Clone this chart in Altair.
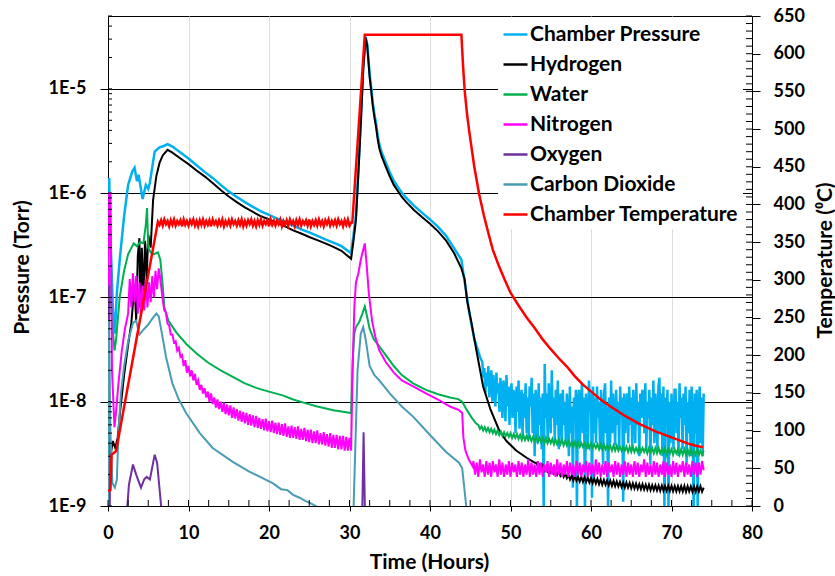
import altair as alt
import pandas as pd

# ---- series names and colours (legend order) ----
SERIES = ["Chamber Pressure", "Hydrogen", "Water", "Nitrogen", "Oxygen",
          "Carbon Dioxide", "Chamber Temperature"]
COLORS = ["#00B0F0", "#000000", "#00B050", "#FF00FF", "#7030A0", "#4A9BB4", "#FF0000"]

# ---- pressures in nTorr (converted to Torr below) ----
cp_t = [0, 0.15, 0.3, 0.6, 0.85, 1.1, 1.5, 2.0, 2.5, 3.0,
        3.3, 3.6, 3.8, 4.3, 4.7, 5.0, 5.2, 5.8, 6.4, 7.0,
        7.4, 8, 9, 10, 11, 12, 13, 14, 15, 16,
        17, 18, 19, 20, 21, 22, 23, 24, 25, 26,
        27, 28, 29, 30.2, 30.5, 30.8, 31.1, 31.4, 31.7, 32.0,
        32.2, 32.5, 32.7, 32.9, 33.1, 33.3, 33.5, 33.7, 34.0, 34.5,
        35.0, 35.5, 36.0, 36.5, 37.0, 38, 39, 40, 41, 42,
        43, 43.9, 44.2, 44.6, 44.9, 45.5, 46.2]
cp_v = [300, 1400, 400, 80, 45, 110, 250, 600, 1200, 1600,
        1750, 1300, 1500, 880, 1200, 1100, 1260, 2500, 2750, 2850,
        2950, 2800, 2450, 2150, 1850, 1600, 1400, 1200, 1040, 920,
        820, 740, 670, 620, 570, 530, 490, 450, 420, 390,
        360, 335, 310, 265, 400, 620, 1700, 5000, 16000, 31500,
        27000, 14000, 10200, 7300, 5700, 4650, 3600, 2950, 2450, 1970,
        1590, 1320, 1150, 1010, 910, 760, 650, 560, 475, 390,
        295, 230, 160, 100, 70, 40, 27]
# noisy gauge reading after cool-down, every 0.125 h from 46.5 h
cp_tail = [24, 17, 21, 12, 19, 14, 22, 11, 16, 20, 10, 18, 13, 9, 19, 12,
           15, 8, 17, 11, 7, 16, 13, 6.5, 18, 9, 14, 6, 12, 15, 7, 13,
           11, 5, 14, 8, 16, 5.5, 10, 13, 4.5, 12, 7, 15, 5, 11, 4.5, 14,
           9, 17, 5, 12, 3, 13, 8, 4, 15, 6, 11, 3.5, 12, 0.9, 23, 7,
           12, 4, 15, 9, 5, 20, 7, 11, 4.2, 13, 6, 16, 3.5, 10, 12, 4,
           13, 6, 10, 4, 12, 8, 3, 14, 5, 9, 1.5, 11, 7, 13, 0.9, 10,
           13, 4, 9, 15, 5, 11, 0.9, 12, 6, 3.5, 16, 8, 12, 1.2, 14, 5,
           11, 4, 14, 7, 10, 3.5, 13, 6, 2.5, 12, 15, 5, 9, 0.9, 11, 4,
           16, 5, 12, 8, 3.8, 13, 6, 10, 3.5, 14, 7, 11, 1.1, 12, 5, 9,
           12, 4, 14, 6, 11, 3.5, 13, 8, 4, 15, 6, 10, 3, 12, 7, 13,
           12, 5, 15, 3.5, 10, 7, 13, 2.5, 11, 6, 16, 4, 12, 8, 3.5, 14,
           17, 5, 12, 3, 14, 0.9, 11, 6, 13, 0.9, 10, 4, 12, 7, 3.5, 13,
           13, 5, 10, 3, 15, 7, 11, 3.5, 12, 6, 14, 2.5, 10, 5, 13, 3,
           14, 6, 0.9, 12, 5, 13, 0.9, 9, 14, 4, 11, 3, 12]

h_t = [0, 0.3, 0.6, 0.9, 1.2, 1.5, 2.0, 2.5, 2.9, 3.3,
       3.5, 3.7, 3.9, 4.0, 4.2, 4.4, 4.6, 4.8, 5.0, 5.3,
       5.6, 6.0, 6.4, 6.8, 7.4, 8, 9, 10, 11, 12,
       13, 14, 15, 16, 17, 18, 19, 20, 21, 22,
       23, 24, 25, 26, 27, 28, 29, 30.2, 30.5, 30.8,
       31.1, 31.4, 31.7, 32.0, 32.2, 32.5, 32.7, 32.9, 33.1, 33.3,
       33.5, 33.7, 34.0, 34.5, 35.0, 35.5, 36.0, 36.5, 37.0, 38,
       39, 40, 41, 42, 43, 43.9, 44.3, 44.6, 45.1, 45.8,
       46.6, 47.5, 48.6, 49.5, 50.7, 52.0, 53.0]
h_v = [0.5, 3, 4.2, 3.6, 4.5, 8, 18, 35, 57, 133,
       60, 250, 370, 80, 300, 100, 350, 150, 400, 300,
       860, 1450, 1950, 2300, 2600, 2450, 2150, 1900, 1650, 1450,
       1250, 1070, 930, 820, 730, 660, 600, 560, 520, 480,
       440, 410, 380, 355, 330, 305, 280, 235, 350, 550,
       1500, 4500, 15000, 31000, 26000, 13000, 9500, 6800, 5300, 4300,
       3300, 2700, 2250, 1800, 1450, 1200, 1050, 920, 830, 690,
       590, 510, 430, 350, 265, 190, 150, 94, 60, 30,
       14, 8.5, 5.3, 4.2, 3.4, 2.9, 2.6]
# every 0.2 h from 53.2 h
h_tail = [2.6, 2.4, 2.5, 2.3, 2.45, 2.2, 2.35, 2.15, 2.3, 2.1,
          2.25, 2.05, 2.2, 2.0, 2.15, 1.95, 2.1, 1.9, 2.05, 1.85,
          2.0, 1.8, 1.95, 1.75, 1.95, 1.75, 1.9, 1.72, 1.9, 1.7,
          1.88, 1.7, 1.86, 1.68, 1.85, 1.66, 1.84, 1.64, 1.82, 1.62,
          1.8, 1.6, 1.78, 1.6, 1.76, 1.58, 1.75, 1.56, 1.74, 1.55,
          1.72, 1.54, 1.7, 1.52, 1.68, 1.5, 1.68, 1.5, 1.66, 1.48,
          1.65, 1.47, 1.64, 1.46, 1.62, 1.45, 1.62, 1.44, 1.6, 1.43,
          1.6, 1.42, 1.58, 1.42, 1.58, 1.41, 1.57, 1.4, 1.57, 1.4,
          1.56, 1.4, 1.56, 1.39, 1.56, 1.39, 1.55, 1.38, 1.55, 1.38,
          1.55, 1.38, 1.56, 1.37, 1.55, 1.38, 1.54, 1.37, 1.55, 1.37,
          1.54, 1.38, 1.55, 1.37, 1.5]

w_t = [0.1, 0.5, 0.8, 1.0, 1.45, 2.0, 2.5, 3.2, 3.6, 4.0,
       4.4, 4.7, 4.85, 5.0, 5.3, 5.7, 6.2, 6.5, 6.8, 7.0,
       7.5, 8.5, 9.7, 11, 12.5, 14, 15.5, 17, 18.5, 20,
       21.7, 23, 24.5, 26, 28, 30.2, 30.4, 30.6, 30.8, 31.2,
       31.6, 31.9, 32.2, 32.5, 33, 33.7, 34.5, 35.5, 36.5, 37.9,
       39.5, 41, 42.5, 43.5, 44.0, 44.5, 45.2, 45.7]
w_v = [200, 60, 31, 39, 100, 180, 260, 330, 310, 340,
       330, 500, 720, 300, 270, 260, 270, 230, 130, 80,
       60, 46, 36, 29, 23.5, 20, 17.3, 15, 13.5, 12.5,
       11.5, 10.5, 9.7, 9.0, 8.3, 7.8, 25, 45, 52, 58,
       70, 82, 65, 50, 40, 34, 28, 22, 18, 15,
       13, 11.8, 11, 10.6, 10.0, 8.5, 7.0, 6.2]
# every 0.2 h from 46.0 h
w_tail = [6.0, 5.5, 5.8, 5.3, 5.7, 5.2, 5.6, 5.1, 5.5, 5.0,
          5.4, 4.9, 5.3, 4.8, 5.2, 4.7, 5.1, 4.7, 5.0, 4.6,
          5.0, 4.5, 4.9, 4.5, 4.9, 4.4, 4.8, 4.3, 4.8, 4.3,
          4.7, 4.3, 4.7, 4.2, 4.6, 4.2, 4.6, 4.1, 4.5, 4.1,
          4.5, 4.0, 4.5, 4.0, 4.4, 4.0, 4.4, 3.9, 4.3, 3.9,
          4.3, 3.9, 4.3, 3.8, 4.2, 3.8, 4.2, 3.8, 4.1, 3.7,
          4.1, 3.7, 4.1, 3.7, 4.0, 3.7, 4.0, 3.6, 4.0, 3.6,
          4.0, 3.6, 3.9, 3.6, 3.9, 3.5, 3.9, 3.5, 3.9, 3.5,
          3.8, 3.5, 3.8, 3.4, 3.8, 3.4, 3.8, 3.4, 3.7, 3.4,
          3.7, 3.4, 3.7, 3.3, 3.7, 3.3, 3.7, 3.3, 3.6, 3.3,
          3.7, 3.3, 3.6, 3.3, 3.6, 3.2, 3.6, 3.3, 3.6, 3.2,
          3.6, 3.2, 3.6, 3.2, 3.5, 3.2, 3.6, 3.1, 3.5, 3.2,
          3.5, 3.1, 3.5, 3.2, 3.5, 3.1, 3.5, 3.1, 3.5, 3.1,
          3.5, 3.1, 3.5, 3.1, 3.4, 3.1, 3.5, 3.1, 3.4, 3.1,
          3.4]

n_t = [0, 0.1, 0.3, 0.5, 0.8, 1.0, 1.3, 1.7, 2.1, 2.5,
       2.7, 2.9, 3.1, 3.3, 3.5, 3.7, 3.9, 4.1, 4.3, 4.5,
       4.7, 4.9, 5.1, 5.3, 5.5, 5.7, 5.9, 6.1, 6.3, 6.5,
       6.8, 7.0]
n_v = [0.5, 1000, 1000, 20, 5.7, 8, 15, 30, 50, 70,
       150, 80, 170, 90, 160, 70, 140, 65, 130, 75,
       150, 80, 140, 90, 160, 100, 180, 120, 190, 150,
       95, 75]
# every 0.2 h from 7.2 h
n_mid = [72, 56, 54, 44, 44, 37, 38, 31, 33, 27,
         28, 22, 25, 19, 22, 17.5, 20, 16, 18.5, 14.5,
         16, 13, 14.5, 12, 13.5, 11, 12.5, 10, 12, 9.5,
         11, 8.8, 10.5, 8.5, 10, 8.0, 9.8, 7.6, 9.4, 7.4,
         9.2, 7.0, 8.8, 6.9, 8.5, 6.6, 8.2, 6.4, 8.0, 6.2,
         7.8, 6.0, 7.6, 5.9, 7.4, 5.7, 7.3, 5.6, 7.0, 5.5,
         6.8, 5.3, 6.9, 5.2, 6.5, 5.1, 6.6, 5.0, 6.3, 4.9,
         6.3, 4.8, 6.1, 4.7, 6.2, 4.6, 5.8, 4.5, 5.9, 4.5,
         5.7, 4.4, 5.8, 4.3, 5.5, 4.3, 5.6, 4.2, 5.4, 4.1,
         5.4, 4.0, 5.2, 4.0, 5.3, 3.9, 5.0, 3.9, 5.1, 3.8,
         4.9, 3.7, 5.0, 3.6, 4.8, 3.6, 4.8, 3.5, 4.7, 3.5,
         4.7, 3.4, 4.6, 3.4, 4.5, 3.4]
n2_t = [30.4, 30.6, 30.8, 31.1, 31.4, 31.9, 32.1, 32.4, 32.8, 33.2,
        33.7, 34.5, 35.5, 36.5, 37.9, 39.5, 41, 42.5, 43.6, 44.0,
        44.15, 44.4, 44.8, 45.3]
n2_v = [23, 80, 140, 170, 230, 330, 220, 110, 60, 42,
        31, 24, 19, 16, 14, 12, 10.5, 9.0, 8.3, 7.8,
        4.5, 3.4, 2.8, 2.4]
# every 0.2 h from 45.4 h
n_tail = [2.7, 2.0, 2.6, 1.9, 2.8, 2.1, 2.5, 1.9, 2.7, 2.0,
          2.6, 1.9, 2.7, 2.1, 2.5, 1.9, 2.8, 2.0, 2.6, 1.9,
          2.5, 2.0, 2.7, 1.9, 2.6, 2.1, 2.5, 1.9, 2.7, 2.0,
          2.6, 1.9, 2.5, 2.0, 2.8, 1.9, 2.6, 2.0, 2.5, 1.9,
          2.7, 2.0, 2.6, 1.9, 2.5, 2.1, 2.7, 1.9, 2.6, 2.0,
          2.5, 1.9, 2.8, 2.0, 2.6, 1.9, 2.5, 2.0, 2.7, 1.9,
          2.6, 2.0, 2.5, 1.9, 2.7, 2.0, 2.6, 1.9, 2.5, 2.1,
          2.7, 1.9, 2.6, 2.0, 2.5, 1.9, 2.8, 2.0, 2.6, 1.9,
          2.5, 2.0, 2.7, 1.9, 2.6, 2.1, 2.5, 1.9, 2.7, 2.0,
          2.6, 1.9, 2.5, 2.0, 2.7, 1.9, 2.6, 2.0, 2.5, 1.9,
          2.7, 2.0, 2.6, 1.9, 2.5, 2.1, 2.8, 1.9, 2.6, 2.0,
          2.5, 1.9, 2.7, 2.0, 2.6, 1.9, 2.5, 2.0, 2.7, 1.9,
          2.6, 2.0, 2.5, 1.9, 2.7, 2.0, 2.6, 1.9, 2.5, 2.1,
          2.7, 1.9, 2.6, 2.0, 2.5, 1.9, 2.7, 2.0, 2.6, 1.9,
          2.6, 2.0, 2.7, 2.2]

o_t = [0, 0.1, 0.25, 2.2, 2.6, 3.1, 3.5, 4.1, 4.5, 4.8,
       5.2, 5.8, 6.1, 6.6, 6.9, 31.55, 31.75, 31.95, 74]
o_v = [0.5, 130, 0.5, 0.6, 1.6, 2.5, 2.0, 1.5, 1.8, 1.9,
       1.8, 3.1, 2.6, 1.0, 0.5, 0.6, 5.1, 0.6, 0.5]

c_t = [0, 0.1, 0.3, 0.55, 0.85, 1.1, 1.3, 1.6, 2.0, 2.5,
       3.1, 3.5, 3.9, 4.3, 5.0, 5.6, 6.0, 6.3, 6.7, 7.2,
       8.0, 8.8, 9.7, 11.4, 13, 15.5, 17.5, 19.7, 20.5, 21.5,
       22.3, 23.0, 23.8, 24.5, 25.3, 26.0, 26.8, 27.5, 28.5, 30.4,
       31.0, 31.4, 31.7, 32.0, 32.5, 33.1, 33.7, 35, 36.5, 37.9,
       40, 42, 43.6, 44.0, 44.5, 45, 74]
c_v = [0.5, 60, 5, 1.65, 1.5, 1.8, 5, 12, 22, 38,
       57, 60, 44, 48, 55, 64, 70, 66, 45, 27,
       15, 10.5, 7.8, 5.0, 3.6, 2.65, 2.15, 1.77, 1.65, 1.45,
       1.42, 1.28, 1.2, 1.12, 1.05, 0.98, 0.95, 0.9, 0.7, 0.5,
       20, 45, 52, 40, 22, 18, 16, 12, 9, 7.2,
       4.8, 3.3, 2.6, 2.3, 1.0, 0.5, 0.5]

# ---- chamber temperature, deg C ----
temp_t1 = [0, 0.3, 0.45, 1.0, 6.2]
temp_v1 = [20, 21, 68, 73, 377]
# controller hunting at the 375 C hold, every 0.2 h from 6.4 h
temp_hold = [373, 379, 372, 380, 374, 378, 371, 379, 373, 380,
             372, 378, 374, 379, 371, 380, 373, 378, 372, 379,
             374, 380, 372, 378, 371, 379, 373, 380, 372, 378,
             373, 379, 371, 380, 374, 378, 372, 379, 373, 380,
             371, 378, 373, 379, 372, 380, 374, 378, 372, 379,
             373, 380, 371, 378, 372, 379, 374, 380, 372, 378,
             371, 379, 373, 380, 372, 378, 374, 379, 371, 380,
             373, 378, 372, 379, 374, 380, 371, 378, 373, 379,
             372, 380, 374, 378, 371, 379, 373, 380, 372, 378,
             374, 379, 372, 380, 371, 378, 373, 379, 372, 380,
             373, 378, 371, 379, 374, 380, 372, 378, 373, 379,
             372, 380, 374, 378, 371, 379, 373, 380, 372, 376]
temp_t2 = [30.35, 31.9, 43.9, 44.1, 44.3, 44.6, 44.9, 45.5, 46.1, 46.7,
           47.3, 47.8, 48.5, 49.2, 50.0, 51.0, 52.0, 53.0, 54.0, 55.0,
           56.0, 57.0, 58.0, 59.0, 60.0, 61.0, 62.0, 63.0, 64.0, 65.0,
           66.0, 67.0, 68.0, 69.0, 70.0, 71.0, 72.0, 73.0, 73.9]
temp_v2 = [376, 625, 625, 585, 552, 520, 495, 450, 414, 385,
           360, 340, 320, 302, 283, 266, 250, 236, 221, 208,
           196, 185, 172, 161, 152, 143, 135, 128, 121, 115,
           109, 104, 99, 95, 91, 87, 83, 80, 78]

# ---- axis tick values ----
X_MAJOR = [0, 10, 20, 30, 40, 50, 60, 70, 80]
X_MINOR = [2.5 * i for i in range(33)]
P_MAJOR = [1e-9, 1e-8, 1e-7, 1e-6, 1e-5]
P_MINOR = [m * 10.0 ** k for k in range(-9, -4) for m in range(1, 10) if m * 10.0 ** k <= 5e-5]
T_MAJOR = list(range(0, 651, 50))
T_MINOR = list(range(0, 651, 10))


def stepped(start, step, values):
    return [round(start + step * i, 3) for i in range(len(values))]


def frame(name, ts, vs):
    return pd.DataFrame({"t": ts, "p": [v * 1e-9 for v in vs], "series": name})


pressure = {
    "Chamber Pressure": frame("Chamber Pressure", cp_t + stepped(46.5, 0.125, cp_tail), cp_v + cp_tail),
    "Hydrogen": frame("Hydrogen", h_t + stepped(53.2, 0.2, h_tail), h_v + h_tail),
    "Water": frame("Water", w_t + stepped(46.0, 0.2, w_tail), w_v + w_tail),
    "Nitrogen": frame("Nitrogen", n_t + stepped(7.2, 0.2, n_mid) + n2_t + stepped(45.4, 0.2, n_tail),
                      n_v + n_mid + n2_v + n_tail),
    "Oxygen": frame("Oxygen", o_t, o_v),
    "Carbon Dioxide": frame("Carbon Dioxide", c_t, c_v),
}
temperature = pd.DataFrame({
    "t": temp_t1 + stepped(6.4, 0.2, temp_hold) + temp_t2,
    "temp": temp_v1 + temp_hold + temp_v2,
    "series": "Chamber Temperature",
})

W, H = 644, 490
FONT = "Lato"

x_enc = alt.X("t:Q", scale=alt.Scale(domain=[0, 80], nice=False),
              axis=alt.Axis(values=X_MAJOR, tickSize=5, labelPadding=13, labelFlush=False,
                            title="Time (Hours)", titleX=321, titleY=56,
                            titleAlign="center", titleBaseline="middle"))
y_p = alt.Y("p:Q", scale=alt.Scale(type="log", domain=[1e-9, 5e-5], nice=False),
            axis=alt.Axis(values=P_MAJOR, labelExpr="'1E' + round(log(datum.value) / LN10)",
                          tickSize=8, labelPadding=14, labelFlush=False, labelOverlap=False,
                          grid=True, gridColor="black", gridWidth=1, gridOpacity=1,
                          title="Pressure (Torr)", titleAngle=270, titleX=-86, titleY=251,
                          titleAlign="center", titleBaseline="middle"))
y_t = alt.Y("temp:Q", scale=alt.Scale(domain=[0, 650], nice=False),
            axis=alt.Axis(values=T_MAJOR, orient="right", tickSize=8, labelPadding=13,
                          labelFlush=False, labelOverlap=False, grid=False,
                          title="Temperature (⁰C)", titleAngle=270, titleX=73, titleY=244,
                          titleAlign="center", titleBaseline="middle"))
color = alt.Color("series:N", scale=alt.Scale(domain=SERIES, range=COLORS),
                  legend=alt.Legend(orient="none", legendX=390, legendY=1, title=None,
                                    fillColor="white", padding=4, symbolType="stroke",
                                    symbolSize=576, symbolStrokeWidth=2.5, labelFont=FONT,
                                    labelFontSize=21, labelFontWeight="bold", labelColor="black",
                                    rowPadding=6, labelOffset=1, labelLimit=400))

widths = {"Chamber Pressure": 2.5}
gas_layers = [
    alt.Chart(df).mark_line(strokeWidth=widths.get(name, 2), clip=True)
    .encode(x=x_enc, y=y_p, color=color)
    for name, df in pressure.items()
]

# inward halves of the axis ticks
x_ticks = alt.Chart(pd.DataFrame({"t": X_MINOR})).mark_rule(color="black", strokeWidth=1).encode(
    x=x_enc, y=alt.value(H), y2=alt.value(H - 6))
p_ticks = alt.Chart(pd.DataFrame({"p": P_MINOR})).mark_rule(color="black", strokeWidth=1).encode(
    y=y_p, x=alt.value(0), x2=alt.value(4))

temp_line = alt.Chart(temperature).mark_line(strokeWidth=2.5, clip=True).encode(
    x=x_enc, y=y_t, color=color)
t_ticks = alt.Chart(pd.DataFrame({"temp": T_MINOR})).mark_rule(color="black", strokeWidth=1).encode(
    y=y_t, x=alt.value(W - 6), x2=alt.value(W))

pressure_group = alt.layer(*gas_layers, p_ticks, x_ticks)
temp_group = alt.layer(temp_line, t_ticks)

chart = (
    alt.layer(pressure_group, temp_group)
    .resolve_scale(y="independent")
    .properties(width=W, height=H, background="white",
                padding={"left": 108, "top": 16, "right": 83, "bottom": 70},
                autosize=alt.AutoSizeParams(type="none"))
    .configure_view(stroke="black", strokeWidth=1)
    .configure_axis(labelFont=FONT, labelFontSize=18, labelFontWeight="bold", labelColor="black",
                    titleFont=FONT, titleFontSize=21, titleFontWeight="bold", titleColor="black",
                    domainColor="black", domainWidth=1, tickColor="black", tickWidth=1)
)

chart.save("out.html", embed_options={"renderer": "svg", "actions": False})
